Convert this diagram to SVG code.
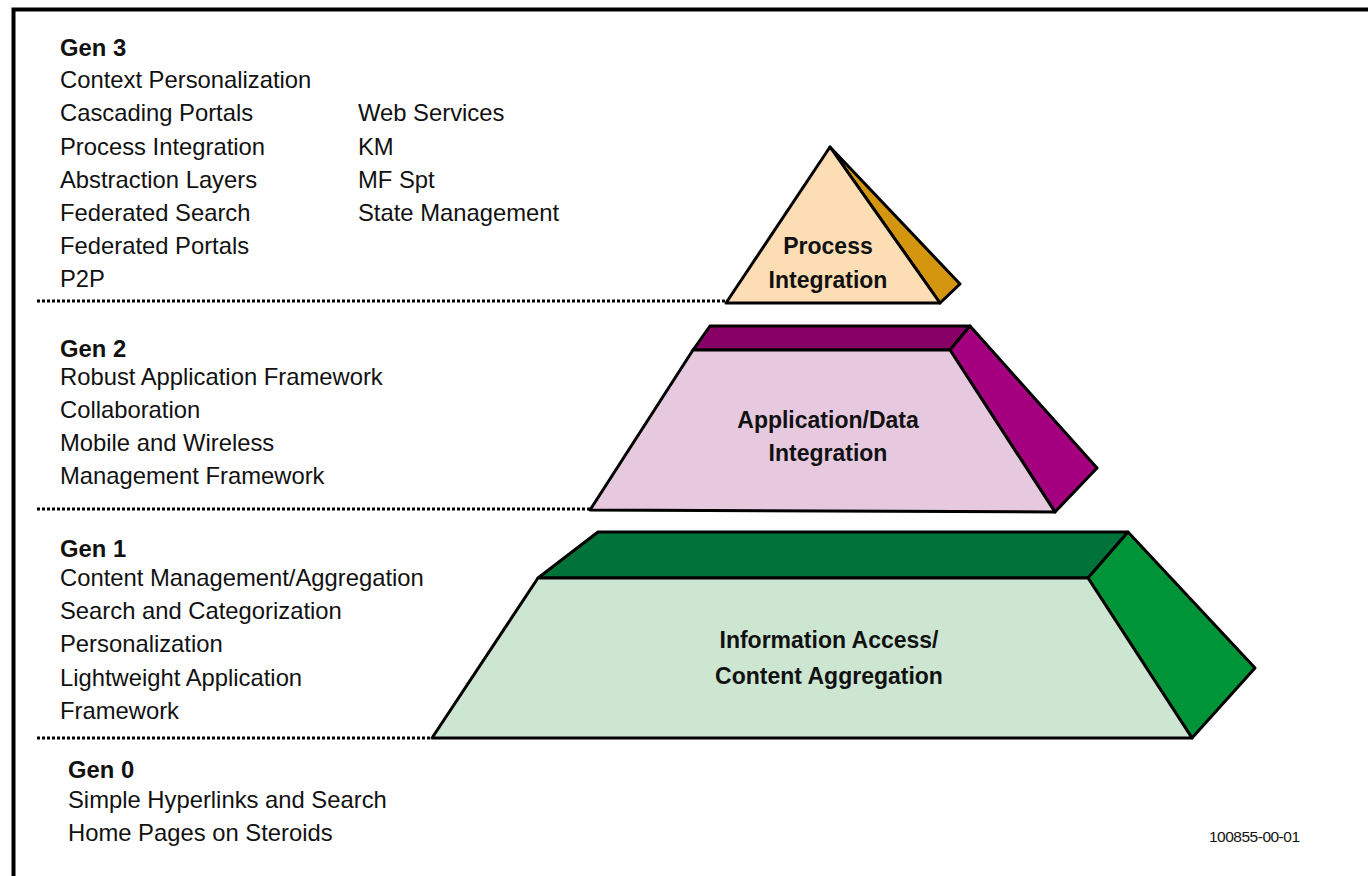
<svg xmlns="http://www.w3.org/2000/svg" width="1368" height="876" viewBox="0 0 1368 876">
  <style>
    .lbl { font-family: "Liberation Sans", Arial, sans-serif; font-size: 23.8px; fill: #111; }
    .hd { font-weight: bold; }
    .ctr { font-family: "Liberation Sans", Arial, sans-serif; font-size: 23px; font-weight: bold; fill: #111; text-anchor: middle; }
    .edge { stroke: #000; stroke-width: 3; stroke-linejoin: round; }
    .sep { stroke: #000; stroke-width: 3; stroke-dasharray: 3 2; fill: none; }
  </style>
  <rect x="0" y="0" width="1368" height="876" fill="#fff"/>
  <!-- outer frame -->
  <path d="M13.5,876 V9.5 H1368" fill="none" stroke="#000" stroke-width="4"/>

  <!-- generation separators -->
  <g id="separators">
    <line class="sep" x1="37" y1="301" x2="726" y2="301"/>
    <line class="sep" x1="37" y1="509" x2="590" y2="509"/>
    <line class="sep" x1="37" y1="738" x2="432" y2="738"/>
  </g>

  <!-- Gen 3 text -->
  <g id="gen3">
    <text class="lbl hd" x="60" y="56">Gen 3</text>
    <text class="lbl" x="60" y="88">Context Personalization</text>
    <text class="lbl" x="60" y="121">Cascading Portals</text>
    <text class="lbl" x="60" y="155">Process Integration</text>
    <text class="lbl" x="60" y="188">Abstraction Layers</text>
    <text class="lbl" x="60" y="221">Federated Search</text>
    <text class="lbl" x="60" y="254">Federated Portals</text>
    <text class="lbl" x="60" y="287">P2P</text>
    <text class="lbl" x="358" y="121">Web Services</text>
    <text class="lbl" x="358" y="155">KM</text>
    <text class="lbl" x="358" y="188">MF Spt</text>
    <text class="lbl" x="358" y="221">State Management</text>
  </g>

  <!-- Gen 2 text -->
  <g id="gen2">
    <text class="lbl hd" x="60" y="357">Gen 2</text>
    <text class="lbl" x="60" y="385">Robust Application Framework</text>
    <text class="lbl" x="60" y="418">Collaboration</text>
    <text class="lbl" x="60" y="451">Mobile and Wireless</text>
    <text class="lbl" x="60" y="484">Management Framework</text>
  </g>

  <!-- Gen 1 text -->
  <g id="gen1">
    <text class="lbl hd" x="60" y="557">Gen 1</text>
    <text class="lbl" x="60" y="586">Content Management/Aggregation</text>
    <text class="lbl" x="60" y="619">Search and Categorization</text>
    <text class="lbl" x="60" y="652">Personalization</text>
    <text class="lbl" x="60" y="686">Lightweight Application</text>
    <text class="lbl" x="60" y="719">Framework</text>
  </g>

  <!-- Gen 0 text -->
  <g id="gen0">
    <text class="lbl hd" x="68" y="778">Gen 0</text>
    <text class="lbl" x="68" y="808">Simple Hyperlinks and Search</text>
    <text class="lbl" x="68" y="841">Home Pages on Steroids</text>
  </g>

  <!-- top tier: triangle -->
  <g id="process-integration">
    <polygon class="edge" points="830,147 960,284 940,303" fill="#D4960F"/>
    <polygon class="edge" points="830,147 940,303 726,303" fill="#FCDDB4"/>
    <text class="ctr" x="828" y="254">Process</text>
    <text class="ctr" x="828" y="288">Integration</text>
  </g>

  <!-- middle tier -->
  <g id="application-data-integration">
    <polygon class="edge" points="710,326 970,326 950,350 693,350" fill="#880066"/>
    <polygon class="edge" points="970,326 1097,468 1055,512 950,350" fill="#A5007F"/>
    <polygon class="edge" points="693,350 950,350 1055,512 590,510" fill="#E6C8DF"/>
    <text class="ctr" x="828" y="428">Application/Data</text>
    <text class="ctr" x="828" y="461">Integration</text>
  </g>

  <!-- bottom tier -->
  <g id="information-access">
    <polygon class="edge" points="598,532 1128,532 1088,578 538,578" fill="#00733A"/>
    <polygon class="edge" points="1128,532 1255,668 1192,738 1088,578" fill="#009438"/>
    <polygon class="edge" points="538,578 1088,578 1192,738 432,738" fill="#CDE6D2"/>
    <text class="ctr" x="829" y="648">Information Access/</text>
    <text class="ctr" x="829" y="684">Content Aggregation</text>
  </g>

  <text x="1209" y="842" font-family="'Liberation Sans', Arial, sans-serif" font-size="15.5" fill="#111" letter-spacing="-0.5">100855-00-01</text>
</svg>
